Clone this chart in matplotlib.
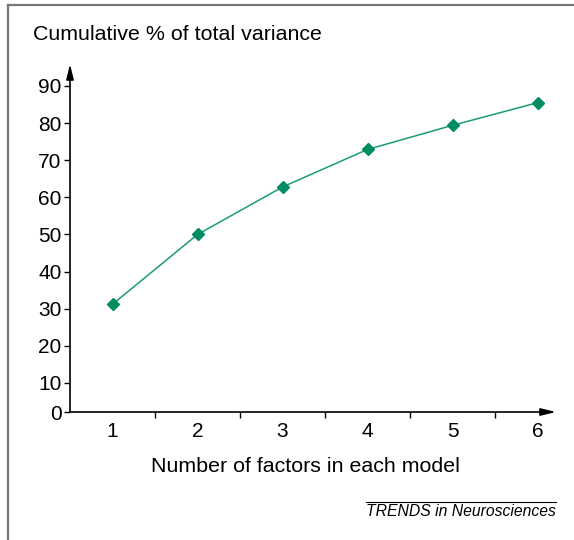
import matplotlib
matplotlib.use("Agg")
import matplotlib.pyplot as plt
from matplotlib.lines import Line2D

plt.rcParams['font.family'] = ['Liberation Sans', 'DejaVu Sans']

factors = [1, 2, 3, 4, 5, 6]
cum_variance = [31.2, 50.0, 62.8, 72.9, 79.4, 85.5]
y_tick_values = [10, 20, 30, 40, 50, 60, 70, 80, 90]
y_tick_labels = ['10', '20', '30', '40', '50', '60', '70', '80', '90']
x_tick_labels = ['1', '2', '3', '4', '5', '6']

W, H = 574, 540
fig = plt.figure(figsize=(W / 100, H / 100), dpi=100)

# frame lines (top and left only)
fig.add_artist(Line2D([8 / W, 1.0], [1 - 5 / H, 1 - 5 / H], transform=fig.transFigure,
                      color='#777777', lw=1.6))
fig.add_artist(Line2D([8 / W, 8 / W], [0.0, 1 - 5 / H], transform=fig.transFigure,
                      color='#777777', lw=1.6))

x0, xr, yb, yt = 70, 556, 412, 64
ax = fig.add_axes([x0 / W, (H - yb) / H, (xr - x0) / W, (yb - yt) / H])
ppu_x = 85.0
ppu_y = (383 - 86) / 80.0
xmin = 0.5
xmax = xmin + (xr - x0) / ppu_x
ymin = 10 - (yb - 383) / ppu_y
ymax = 90 + (86 - yt) / ppu_y
ax.set_xlim(xmin, xmax)
ax.set_ylim(ymin, ymax)
for s in ax.spines.values():
    s.set_visible(False)
ax.patch.set_alpha(0)

# axes with arrows
ax.annotate('', xy=(1, 0), xytext=(0, 0), xycoords='axes fraction',
            arrowprops=dict(arrowstyle='-|>,head_length=0.9,head_width=0.22', color='black', lw=1.2,
                            shrinkA=0, shrinkB=0), annotation_clip=False)
ax.annotate('', xy=(0, 1), xytext=(0, 0), xycoords='axes fraction',
            arrowprops=dict(arrowstyle='-|>,head_length=0.9,head_width=0.22', color='black', lw=1.2,
                            shrinkA=0, shrinkB=0), annotation_clip=False)

ax.plot(factors, cum_variance, color='#1a9c74', lw=1.1, marker='D', markersize=6.5,
        markerfacecolor='#008c62', markeredgecolor='#008c62', clip_on=False, zorder=3)

ax.set_yticks([ymin] + y_tick_values)
ax.set_yticklabels(['0'] + y_tick_labels)
ax.tick_params(axis='y', direction='out', length=4, width=1, pad=2, labelsize=15)

ax.set_xticks(factors)
ax.set_xticklabels(x_tick_labels)
ax.tick_params(axis='x', which='major', length=0, pad=7, labelsize=15)
ax.set_xticks([f + 0.5 for f in factors[:-1]], minor=True)
ax.tick_params(axis='x', which='minor', direction='out', length=4, width=1)

fig.text(33 / W, 1 - 35 / H, 'Cumulative % of total variance', fontsize=15.4,
         ha='left', va='center')
fig.text(305 / W, 1 - 467 / H, 'Number of factors in each model', fontsize=15.4,
         ha='center', va='center')
fig.text(556 / W, 1 - 512 / H, 'TRENDS in Neurosciences', fontsize=11.3, style='italic',
         ha='right', va='center')
fig.add_artist(Line2D([366 / W, 556 / W], [1 - 502 / H, 1 - 502 / H], transform=fig.transFigure,
                      color='black', lw=0.8))

fig.savefig('out.png', dpi=100)
